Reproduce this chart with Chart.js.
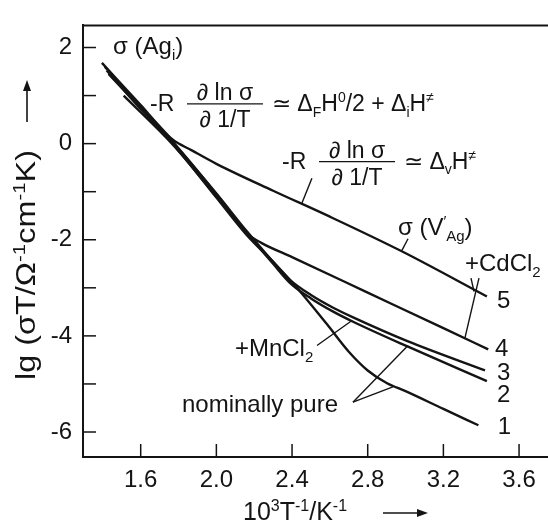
<!DOCTYPE html>
<html>
<head>
<meta charset="utf-8">
<script src="https://cdn.jsdelivr.net/npm/chart.js@4.4.0/dist/chart.umd.min.js"></script>
<style>
  html, body { margin: 0; padding: 0; background: #fff; }
  #wrap { width: 548px; height: 529px; position: relative; }
</style>
</head>
<body>
<div id="wrap"><canvas id="chart"></canvas></div>
<script>
// values: [10^3 T^-1 / K^-1, lg(sigma T)]
const curve1 = [[1.42, 1.52], [1.60, 0.72], [1.77, 0.0], [2.0, -1.12], [2.16, -1.90], [2.30, -2.46],
                [2.43, -3.02], [2.585, -3.76], [2.70, -4.33], [2.80, -4.72], [2.90, -4.98], [3.0, -5.15],
                [3.2, -5.52], [3.385, -5.86]];
const curve2 = [[1.51, 1.0], [1.77, -0.02], [2.0, -1.10], [2.16, -1.86], [2.30, -2.50], [2.39, -2.90],
                [2.50, -3.22], [2.62, -3.50], [2.72, -3.70], [3.01, -4.22], [3.43, -4.94]];
const curve3 = [[1.43, 1.45], [1.77, 0.02], [2.0, -1.04], [2.16, -1.82], [2.30, -2.46], [2.39, -2.84],
                [2.50, -3.15], [2.62, -3.42], [2.72, -3.61], [3.01, -4.11], [3.42, -4.72]];
const curve4 = [[1.41, 1.60], [1.60, 0.76], [1.77, 0.04], [2.0, -1.05], [2.10, -1.56], [2.16, -1.86],
                [2.24, -2.07], [2.40, -2.36], [2.80, -3.10], [3.20, -3.84], [3.437, -4.28]];
const curve5 = [[1.395, 1.68], [1.60, 0.80], [1.70, 0.36], [1.77, 0.08], [1.87, -0.14], [2.0, -0.42],
                [2.3, -0.98], [2.6, -1.52], [2.98, -2.24], [3.43, -3.18]];

const curveNames = ['1', '2', '3', '4', '5'];
const xTicks = [1.6, 2.0, 2.4, 2.8, 3.2, 3.6];
const yTicks = [-6, -5, -4, -3, -2, -1, 0, 1, 2];

// leader lines from the labels to the curves
const leaders = [
  [[2.505, -0.72], [2.452, -1.24]],
  [[3.013, -1.98], [2.981, -2.22]],
  [[3.314, -4.04], [3.388, -2.80]],
  [[3.346, -2.80], [3.362, -3.08]],
  [[2.532, -4.20], [2.717, -3.68]],
  [[2.722, -5.38], [3.013, -4.20]],
  [[2.722, -5.38], [2.933, -5.06]]
];

// text labels: anchor (data units), parts [text, 'sub'|'sup'|'']
const labels = [
  { at: [3.483, -3.42], parts: [['5', '']] },
  { at: [3.473, -4.42], parts: [['4', '']] },
  { at: [3.483, -4.92], parts: [['3', '']] },
  { at: [3.483, -5.38], parts: [['2', '']] },
  { at: [3.488, -6.04], parts: [['1', '']] },
  { at: [3.314, -2.64], parts: [['+CdCl', ''], ['2', 'sub']] },
  { at: [2.098, -4.42], parts: [['+MnCl', ''], ['2', 'sub']] },
  { at: [1.818, -5.58], parts: [['nominally pure', '']] },
  { at: [2.960, -1.90], parts: [['σ (V', ''], ['\u2032', 'sup'], ['Ag', 'sub'], [')', '']] },
  { at: [1.454, 1.86], parts: [['σ (Ag', ''], ['i', 'sub'], [')', '']] }
];

const formulas = [
  { at: [1.649, 0.68], rest: [['≃ Δ', ''], ['F', 'sub'], ['H', ''], ['0', 'sup'], ['/2 + Δ', ''], ['i', 'sub'], ['H', ''], ['≠', 'sup']] },
  { at: [2.347, -0.52], rest: [['≃ Δ', ''], ['v', 'sub'], ['H', ''], ['≠', 'sup']] }
];

const FONT = '"Liberation Sans", Arial, sans-serif';
const INK = '#141414';

function partFont(p, size) {
  const s = p[1] ? Math.round(size * 0.62) : size;
  return s + 'px ' + FONT;
}

function drawRich(ctx, x, y, parts, size, align) {
  const widths = parts.map(p => { ctx.font = partFont(p, size); return ctx.measureText(p[0]).width; });
  const total = widths.reduce((a, b) => a + b, 0);
  let cx = align === 'center' ? x - total / 2 : x;
  parts.forEach((p, i) => {
    ctx.font = partFont(p, size);
    const dy = p[1] === 'sub' ? size * 0.25 : p[1] === 'sup' ? -size * 0.38 : 0;
    ctx.fillText(p[0], cx, y + dy);
    cx += widths[i];
  });
  return total;
}

function arrow(ctx, x1, y1, x2, y2) {
  const a = Math.atan2(y2 - y1, x2 - x1);
  ctx.beginPath();
  ctx.moveTo(x1, y1);
  ctx.lineTo(x2 - 6 * Math.cos(a), y2 - 6 * Math.sin(a));
  ctx.lineWidth = 1.6;
  ctx.stroke();
  ctx.beginPath();
  ctx.moveTo(x2, y2);
  ctx.lineTo(x2 - 11 * Math.cos(a) + 4 * Math.sin(a), y2 - 11 * Math.sin(a) - 4 * Math.cos(a));
  ctx.lineTo(x2 - 11 * Math.cos(a) - 4 * Math.sin(a), y2 - 11 * Math.sin(a) + 4 * Math.cos(a));
  ctx.closePath();
  ctx.fill();
}

const decorations = {
  id: 'decorations',
  afterDraw(chart) {
    const ctx = chart.ctx;
    const xs = chart.scales.x, ys = chart.scales.y;
    const area = chart.chartArea;
    ctx.save();
    ctx.strokeStyle = INK;
    ctx.fillStyle = INK;

    // frame top line
    ctx.lineWidth = 2;
    ctx.beginPath();
    ctx.moveTo(area.left - 1, area.top);
    ctx.lineTo(chart.width, area.top);
    ctx.stroke();

    // inward tick marks
    ctx.lineWidth = 1.5;
    xTicks.forEach(v => {
      const px = xs.getPixelForValue(v);
      ctx.beginPath();
      ctx.moveTo(px, area.bottom);
      ctx.lineTo(px, area.bottom - 13);
      ctx.stroke();
    });
    yTicks.forEach(v => {
      const py = ys.getPixelForValue(v);
      ctx.beginPath();
      ctx.moveTo(area.left, py);
      ctx.lineTo(area.left + 13, py);
      ctx.stroke();
    });

    // labels near curves
    ctx.textBaseline = 'alphabetic';
    ctx.textAlign = 'left';
    labels.forEach(l => {
      drawRich(ctx, xs.getPixelForValue(l.at[0]), ys.getPixelForValue(l.at[1]), l.parts, 24, 'left');
    });

    // formulas: -R (d ln sigma / d 1/T) ...
    formulas.forEach(f => {
      const x0 = xs.getPixelForValue(f.at[0]);
      const y0 = ys.getPixelForValue(f.at[1]);
      ctx.font = '23px ' + FONT;
      ctx.fillText('-R', x0, y0);
      const barY = y0 - 7;
      ctx.lineWidth = 1.3;
      ctx.beginPath();
      ctx.moveTo(x0 + 37, barY);
      ctx.lineTo(x0 + 113, barY);
      ctx.stroke();
      ctx.textAlign = 'center';
      ctx.fillText('∂ ln σ', x0 + 75, barY - 4);
      ctx.fillText('∂ 1/T', x0 + 75, barY + 23);
      ctx.textAlign = 'left';
      drawRich(ctx, x0 + 122, y0, f.rest, 23, 'left');
    });

    // x-axis title
    drawRich(ctx, 243, 520, [['10', ''], ['3', 'sup'], ['T', ''], ['-1', 'sup'], ['/K', ''], ['-1', 'sup']], 25, 'left');
    arrow(ctx, 383, 513, 428, 513);

    // y-axis title (rotated)
    ctx.save();
    ctx.translate(35, 380);
    ctx.rotate(-Math.PI / 2);
    const yParts = [['lg (σT/Ω', ''], ['-1', 'sup'], ['cm', ''], ['-1', 'sup'], ['K)', '']];
    ctx.font = '27px ' + FONT;
    let w = 0;
    yParts.forEach(p => { ctx.font = partFont(p, 27); w += ctx.measureText(p[0]).width; });
    ctx.scale(230 / w, 1);
    drawRich(ctx, 0, 0, yParts, 27, 'left');
    ctx.restore();
    arrow(ctx, 27, 122, 27, 80);

    ctx.restore();
  }
};

Chart.defaults.font.family = FONT;
Chart.defaults.color = INK;

function lineSet(points, width) {
  return {
    data: points.map(p => ({ x: p[0], y: p[1] })),
    showLine: true,
    borderColor: INK,
    borderWidth: width,
    pointRadius: 0,
    cubicInterpolationMode: 'monotone',
    fill: false
  };
}

const curves = [curve1, curve2, curve3, curve4, curve5];
const datasets = curves.map((c, i) => Object.assign(lineSet(c, 2.4), { label: curveNames[i] }));
leaders.forEach(l => datasets.push(Object.assign(lineSet(l, 1.4), { cubicInterpolationMode: 'default', tension: 0 })));

new Chart(document.getElementById('chart'), {
  type: 'scatter',
  data: { datasets: datasets },
  options: {
    responsive: true,
    maintainAspectRatio: false,
    animation: false,
    layout: { padding: { top: 8, right: 0, left: 0, bottom: 0 } },
    plugins: { legend: { display: false }, tooltip: { enabled: false } },
    scales: {
      x: {
        type: 'linear',
        min: 1.295,
        max: 3.753,
        afterBuildTicks: s => { s.ticks = xTicks.map(v => ({ value: v })); },
        afterFit: s => { s.height = 72; },
        grid: { drawOnChartArea: false, drawTicks: false },
        border: { display: true, color: INK, width: 2 },
        ticks: { autoSkip: false, maxRotation: 0, padding: 9, font: { size: 24 }, color: INK,
                  callback: v => Number(v).toFixed(1) }
      },
      y: {
        type: 'linear',
        min: -6.52,
        max: 2.46,
        afterBuildTicks: s => { s.ticks = yTicks.map(v => ({ value: v })); },
        afterFit: s => { s.width = 83; },
        grid: { drawOnChartArea: false, drawTicks: false },
        border: { display: true, color: INK, width: 2 },
        ticks: { autoSkip: false, padding: 11, font: { size: 24 }, color: INK,
                  callback: v => (v % 2 === 0 ? String(v) : '') }
      }
    }
  },
  plugins: [decorations]
});
</script>
</body>
</html>
